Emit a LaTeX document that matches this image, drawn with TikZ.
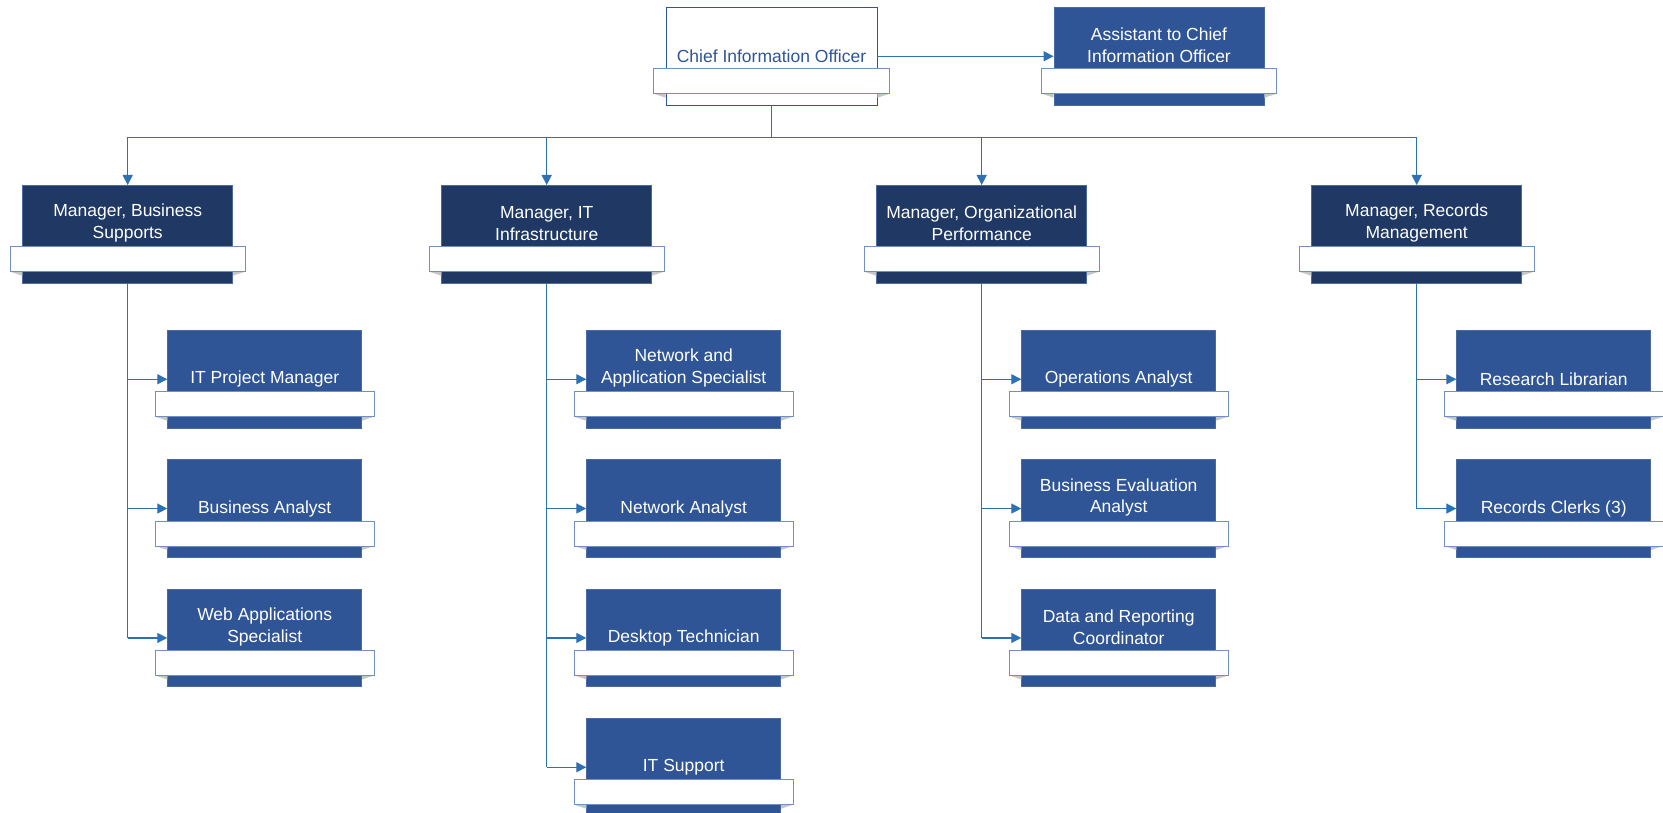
\documentclass[tikz,border=0pt]{standalone}
\usepackage{fontspec}
\setmainfont{Liberation Sans}
\usetikzlibrary{arrows.meta}

\definecolor{navy}{HTML}{1F3864}
\definecolor{staffblue}{HTML}{2F5597}
\definecolor{wire}{HTML}{2E70B4}
\definecolor{bandedge}{HTML}{7090C4}
\definecolor{boxedge}{HTML}{4A6AA3}

\tikzset{
  unit/.style={rectangle, inner sep=0pt, minimum height=97.7pt, anchor=north, line width=0.8pt},
  mgrbox/.style={unit, fill=navy, draw=boxedge, minimum width=210pt},
  staffbox/.style={unit, fill=staffblue, draw=boxedge, minimum width=194pt},
  chiefbox/.style={unit, fill=white, draw=staffblue, minimum width=211pt},
  band/.style={fill=white, draw=bandedge, line width=1pt},
  bevel/.style={fill=gray!45},
  lbl/.style={font=\fontsize{17.5}{21.7}\selectfont, text=white, align=center, inner sep=0pt},
  chieflbl/.style={lbl, text=staffblue},
  twoline/.style={yshift=11pt},
  feed/.style={draw=wire, line width=1.3pt},
  link/.style={feed, -{Triangle[length=10pt,width=10pt]}},
}

% #1 name, #2 box style, #3 top centre, #4 label options, #5 label
\newcommand\orgunit[5]{%
  \node[#2] (#1) at (#3) {};
  \fill[bevel] ([shift={(-12,86.7)}]#1.north west) -- ([shift={(0,86.7)}]#1.north west)
     -- ([shift={(0,90.7)}]#1.north west) -- cycle;
  \fill[bevel] ([shift={(12,86.7)}]#1.north east) -- ([shift={(0,86.7)}]#1.north east)
     -- ([shift={(0,90.7)}]#1.north east) -- cycle;
  \draw[band] ([shift={(-12,61.7)}]#1.north west) rectangle ([shift={(12,86.7)}]#1.north east);
  \node[#4] (#1-label) at (#1.center) {#5};
}

\begin{document}
\begin{tikzpicture}[x=1pt, y=-1pt]
\fill[white] (0,0) rectangle (1663,813);
\useasboundingbox (0,0) rectangle (1663,813);

% top level
\orgunit{cio}{chiefbox}{771.5,7}{chieflbl}{Chief Information Officer}
\orgunit{asst}{staffbox, minimum width=210pt}{1159,7}{lbl, twoline}{Assistant to Chief\\Information Officer}

% managers
\orgunit{mbs}{mgrbox}{127.7,185}{lbl, twoline}{Manager, Business\\Supports}
\orgunit{mit}{mgrbox}{546.7,185}{lbl, twoline}{Manager, IT\\Infrastructure}
\orgunit{mop}{mgrbox}{981.7,185}{lbl, twoline}{Manager, Organizational\\Performance}
\orgunit{mrm}{mgrbox}{1416.7,185}{lbl, twoline}{Manager, Records\\Management}

% business supports staff
\orgunit{bs1}{staffbox}{264.7,330}{lbl}{IT Project Manager}
\orgunit{bs2}{staffbox}{264.7,459.3}{lbl}{Business Analyst}
\orgunit{bs3}{staffbox}{264.7,588.7}{lbl, twoline}{Web Applications\\Specialist}

% infrastructure staff
\orgunit{it1}{staffbox}{683.7,330}{lbl, twoline}{Network and\\Application Specialist}
\orgunit{it2}{staffbox}{683.7,459.3}{lbl}{Network Analyst}
\orgunit{it3}{staffbox}{683.7,588.7}{lbl}{Desktop Technician}
\orgunit{it4}{staffbox}{683.7,718}{lbl}{IT Support}

% organizational performance staff
\orgunit{op1}{staffbox}{1118.7,330}{lbl}{Operations Analyst}
\orgunit{op2}{staffbox}{1118.7,459.3}{lbl, twoline}{Business Evaluation\\Analyst}
\orgunit{op3}{staffbox}{1118.7,588.7}{lbl, twoline}{Data and Reporting\\Coordinator}

% records management staff
\orgunit{rm1}{staffbox}{1553.7,330}{lbl}{Research Librarian}
\orgunit{rm2}{staffbox}{1553.7,459.3}{lbl}{Records Clerks (3)}

% connectors
\draw[link] (cio.east) -- (asst.west);
\coordinate (bus) at ([yshift=-31.7pt]cio.south);
\foreach \m in {mbs,mit,mop,mrm}
  \draw[link] (cio.south) -- (bus) -| (\m.north);

\draw[feed] (mbs.south) -- (mbs.south |- bs3.west);
\foreach \c in {bs1,bs2,bs3}
  \draw[link] (mbs.south |- \c.west) -- (\c.west);

\draw[feed] (mit.south) -- (mit.south |- it4.west);
\foreach \c in {it1,it2,it3,it4}
  \draw[link] (mit.south |- \c.west) -- (\c.west);

\draw[feed] (mop.south) -- (mop.south |- op3.west);
\foreach \c in {op1,op2,op3}
  \draw[link] (mop.south |- \c.west) -- (\c.west);

\draw[feed] (mrm.south) -- (mrm.south |- rm2.west);
\foreach \c in {rm1,rm2}
  \draw[link] (mrm.south |- \c.west) -- (\c.west);
\end{tikzpicture}
\end{document}
